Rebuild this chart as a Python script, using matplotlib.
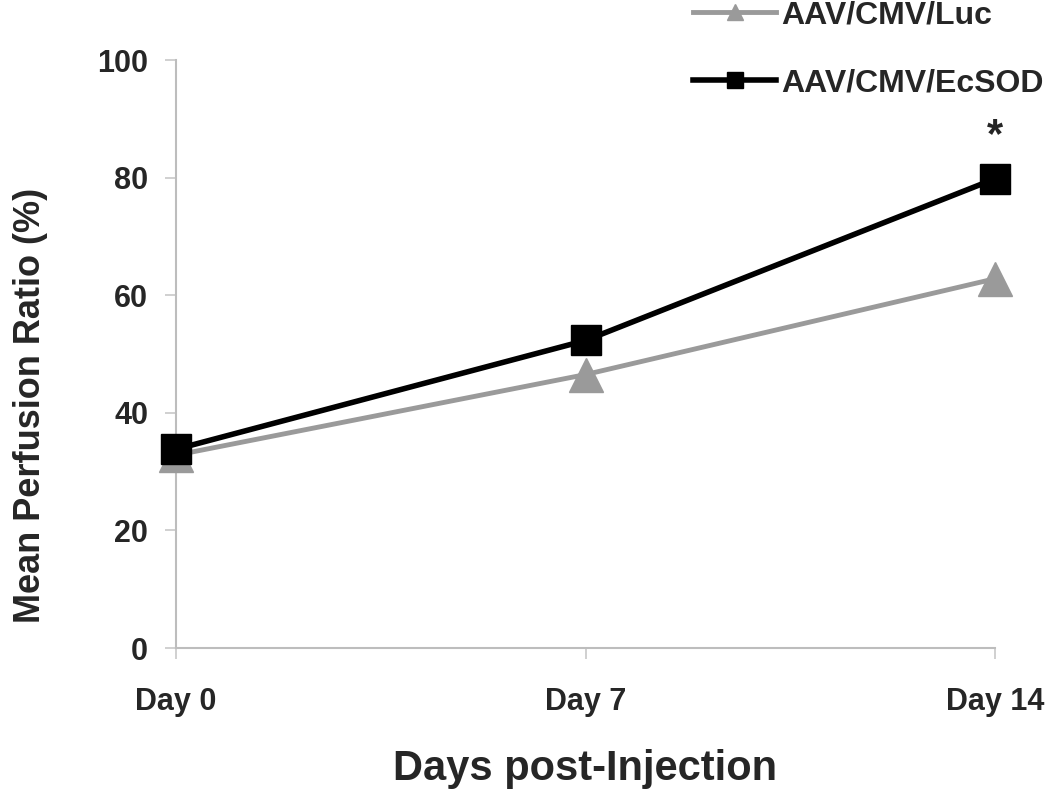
import matplotlib
matplotlib.use("Agg")
import matplotlib.pyplot as plt

days = ["Day 0", "Day 7", "Day 14"]
luc_values = [32.8, 46.5, 62.8]
ecsod_values = [33.8, 52.3, 79.8]
series_names = ["AAV/CMV/Luc", "AAV/CMV/EcSOD"]
y_ticks = [0, 20, 40, 60, 80, 100]

plt.rcParams['font.family'] = ['Liberation Sans', 'DejaVu Sans']
plt.rcParams['font.weight'] = 'bold'
txt = '#262626'

fig = plt.figure(figsize=(10.5, 7.92), dpi=100)
ax = fig.add_axes([176/1050, 1-648/792, (995-176)/1050, (648-60)/792])

x = list(range(len(days)))
ax.plot(x, luc_values, color='#9a9a9a', lw=3.5, marker='^', markersize=24,
        markeredgecolor='#9a9a9a', clip_on=False, label=series_names[0], zorder=3)
ax.plot(x, ecsod_values, color='black', lw=4, marker='s', markersize=22,
        markeredgecolor='black', clip_on=False, label=series_names[1], zorder=4)

ax.set_xlim(0, 2)
ax.set_ylim(0, 100)
ax.set_xticks(x)
ax.set_xticklabels(days)
ax.set_yticks(y_ticks)

for s in ['top', 'right']:
    ax.spines[s].set_visible(False)
for s in ['left', 'bottom']:
    ax.spines[s].set_color('#bdbdbd')
    ax.spines[s].set_linewidth(1.5)

ax.tick_params(axis='y', length=8, width=1.2, color='#c8c8c8', pad=12,
               labelsize=22, labelcolor=txt)
ax.tick_params(axis='x', length=8, width=1.2, color='#c8c8c8', pad=20,
               labelsize=22, labelcolor=txt)
for lab in ax.get_xticklabels() + ax.get_yticklabels():
    lab.set_fontweight('bold')

ax.set_xlabel("Days post-Injection", fontsize=30, fontweight='bold', color=txt)
ax.set_ylabel("Mean Perfusion Ratio (%)", fontsize=26, fontweight='bold', color=txt)
ax.xaxis.set_label_coords(0.5, -0.172)
ax.yaxis.set_label_coords(-0.178, 0.413)
ax.yaxis.label.set_va('center')

ax.text(2, 87, "*", fontsize=30, fontweight='bold', ha='center', va='center', color=txt)

leg = fig.legend(loc='upper left', bbox_to_anchor=(693/1050, 1.0), frameon=False,
                 fontsize=23, handlelength=2.6, handletextpad=0.15,
                 labelspacing=1.2, borderpad=0, borderaxespad=0, markerscale=0.5)
for t in leg.get_texts():
    t.set_color(txt)
    t.set_fontweight('bold')

fig.savefig("out.png", dpi=100)
